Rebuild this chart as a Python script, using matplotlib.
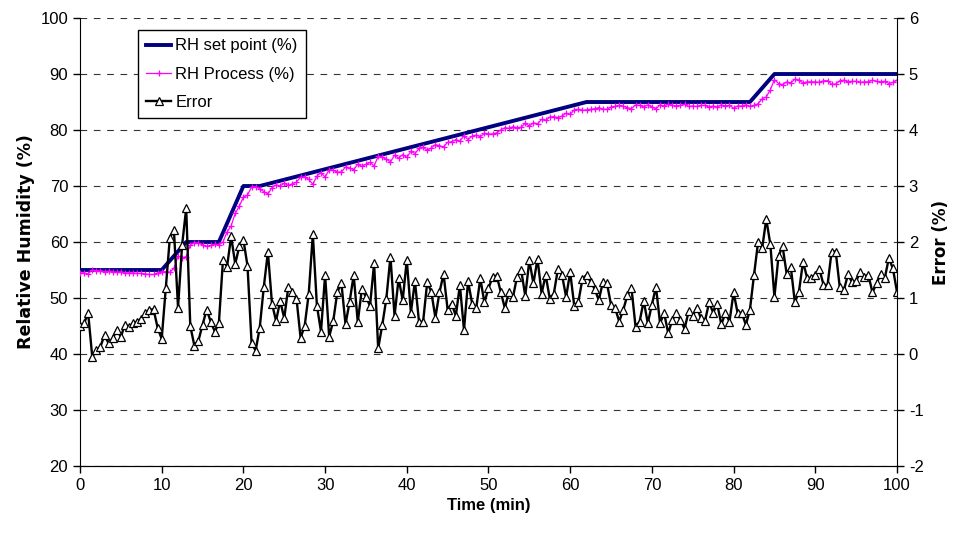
import numpy as np
import matplotlib.pyplot as plt

plt.rcParams['font.family'] = ['Liberation Sans', 'DejaVu Sans']
plt.rcParams['axes.unicode_minus'] = False

# set point profile (breakpoints, min / %RH)
sp_time = [0, 10, 13, 17, 20, 22, 62, 82, 85, 100]
sp_rh = [55, 55, 60, 60, 70, 70, 85, 85, 90, 90]

# samples every 0.5 min
t = np.arange(0, 100.5, 0.5)

rh_process = [
    54.5, 54.5, 54.3, 55.0, 54.9, 54.9, 54.7, 54.8, 54.7, 54.6, 54.7,
    54.5, 54.5, 54.5, 54.4, 54.4, 54.3, 54.2, 54.2, 54.5, 54.7,
    54.7, 54.6, 55.3, 57.5, 57.2, 57.4,
    59.5, 59.9, 59.8, 59.5, 59.2, 59.4, 59.6, 59.5,
    60.0, 61.8, 62.9, 65.1, 66.4, 68.0,
    68.4, 69.8, 69.9, 69.5,
    69.0, 68.6, 69.7, 70.2, 70.0, 70.5, 70.1, 70.4, 70.7, 71.6,
    71.6, 71.2, 70.3, 71.8, 72.4, 71.6, 72.9, 72.8, 72.5, 72.5,
    73.4, 73.2, 72.9, 73.9, 73.5, 73.9, 74.2, 73.6, 75.3, 75.1,
    74.8, 74.3, 75.5, 75.0, 75.6, 75.1, 76.2, 75.8, 76.7, 76.9,
    76.4, 76.8, 77.4, 77.2, 77.0, 77.8, 77.9, 78.3, 78.0, 79.0,
    78.3, 78.9, 79.1, 78.8, 79.4, 79.3, 79.3, 79.5, 80.0, 80.4,
    80.3, 80.6, 80.4, 80.5, 81.2, 80.7, 81.3, 81.1, 81.9, 81.7,
    82.3, 82.4, 82.2, 82.5, 83.0, 82.8, 83.6, 83.7, 83.5, 83.6,
    83.7, 83.8, 84.0, 83.7, 83.7, 84.1, 84.2, 84.4,
    84.2, 84.0, 83.8, 84.5, 84.4, 84.1, 84.5, 84.1, 83.8, 84.5,
    84.3, 84.6, 84.4, 84.3, 84.4, 84.6, 84.2, 84.3, 84.2, 84.4,
    84.4, 84.1, 84.3, 84.1, 84.5, 84.3, 84.4, 83.9, 84.3, 84.3,
    84.5, 84.2,
    84.4, 84.7, 85.6, 85.9, 87.2, 89.0,
    88.3, 88.1, 88.6, 88.4, 89.1, 88.9, 88.4, 88.6, 88.6, 88.6,
    88.5, 88.8, 88.8, 88.2, 88.2, 88.8, 88.9, 88.6, 88.7, 88.7,
    88.5, 88.6, 88.6, 88.9, 88.7, 88.6, 88.7, 88.3, 88.5, 88.9,
]

error = [
    0.5, 0.55, 0.73, -0.05, 0.07, 0.13, 0.34, 0.19, 0.28, 0.43, 0.31,
    0.52, 0.49, 0.55, 0.58, 0.63, 0.73, 0.79, 0.8, 0.47, 0.27,
    1.17, 2.08, 2.21, 0.83, 1.95, 2.6, 0.5, 0.15, 0.24, 0.52, 0.79, 0.58,
    0.4, 0.55, 1.68, 1.56, 2.1, 1.61, 1.92, 2.04, 1.58, 0.2,
    0.06, 0.47, 1.2, 1.82, 0.9, 0.59, 0.95, 0.64, 1.2, 1.11,
    0.99, 0.29, 0.5, 1.08, 2.14, 0.86, 0.4, 1.41, 0.31, 0.59,
    1.11, 1.26, 0.53, 0.93,
    1.41, 0.57, 1.16, 1.02, 0.86, 1.62, 0.1, 0.52, 0.99, 1.74,
    0.68, 1.35, 0.96, 1.68, 0.74, 1.3, 0.57, 0.58, 1.28, 1.11,
    0.65, 1.1, 1.43, 0.79, 0.9, 0.68, 1.23, 0.43, 1.3, 0.9,
    0.82, 1.35, 0.92,
    1.17, 1.38, 1.4, 1.11, 0.82, 1.11, 1.02, 1.38, 1.5, 1.04,
    1.67, 1.26, 1.7, 1.08, 1.41, 0.99, 1.08, 1.52, 1.41, 1.02,
    1.46, 0.86, 0.93, 1.34, 1.41, 1.29, 1.16, 0.96, 1.28, 1.26,
    0.88, 0.82, 0.58,
    0.79, 1.05, 1.18, 0.49, 0.58, 0.95, 0.55, 0.88, 1.2, 0.55,
    0.73, 0.37, 0.61, 0.73, 0.61, 0.45, 0.76, 0.68, 0.83, 0.64,
    0.59, 0.92, 0.74, 0.89, 0.53, 0.73, 0.58, 1.1, 0.73, 0.74,
    0.52, 0.79,
    1.41, 2.0, 1.89, 2.41, 1.96, 1.02, 1.75, 1.92, 1.43, 1.56,
    0.92, 1.11, 1.65, 1.36, 1.36, 1.41, 1.52, 1.24, 1.23, 1.83,
    1.83, 1.19, 1.14, 1.42, 1.28, 1.3, 1.47, 1.38, 1.41, 1.1,
    1.26, 1.43, 1.35, 1.71, 1.53, 1.11,
]

fig = plt.figure(figsize=(9.58, 5.46), dpi=100)
ax = fig.add_axes([0.0835, 0.1465, 0.8528, 0.8205])
ax2 = ax.twinx()

l1, = ax.plot(sp_time, sp_rh, color='#000080', lw=2.8, label='RH set point (%)', zorder=3)
l2, = ax.plot(t, rh_process, color='#ff00ff', lw=0.9, marker='+', ms=5, mew=0.9,
              label='RH Process (%)', zorder=4)
l3, = ax2.plot(t, error, color='black', lw=1.7, marker='^', ms=5.2, mfc='white',
               mec='black', mew=0.9, label='Error')

ax.set_xlim(0, 100)
ax.set_ylim(20, 100)
ax2.set_ylim(-2, 6)
ax.set_xticks(range(0, 101, 10))
ax.set_yticks(range(20, 101, 10))
ax2.set_yticks(range(-2, 7))

ax.yaxis.grid(True, color='#333333', linestyle=(0, (6, 6)), lw=0.8)
ax.set_axisbelow(True)

for a in (ax, ax2):
    a.spines['top'].set_visible(False)
    a.tick_params(direction='out', length=5, width=1, labelsize=12, color='black')
ax2.spines['left'].set_visible(False)
ax.spines['right'].set_visible(False)

ax.set_xlabel('Time (min)', fontsize=12, fontweight='bold')
ax.set_ylabel('Relative Humidity (%)', fontsize=12.5, fontweight='bold', labelpad=4,
              family=['DejaVu Sans'])
ax2.set_ylabel('Error (%)', fontsize=12, fontweight='bold', labelpad=6,
               family=['DejaVu Sans'])

leg = ax2.legend(handles=[l1, l2, l3], loc='upper left', bbox_to_anchor=(0.071, 0.973),
                 borderaxespad=0, fontsize=12, frameon=True, fancybox=False,
                 edgecolor='black', framealpha=1, handlelength=1.5, handletextpad=0.25,
                 labelspacing=0.8, borderpad=0.5)
leg.get_frame().set_linewidth(1)

fig.savefig('out.png', dpi=100)
